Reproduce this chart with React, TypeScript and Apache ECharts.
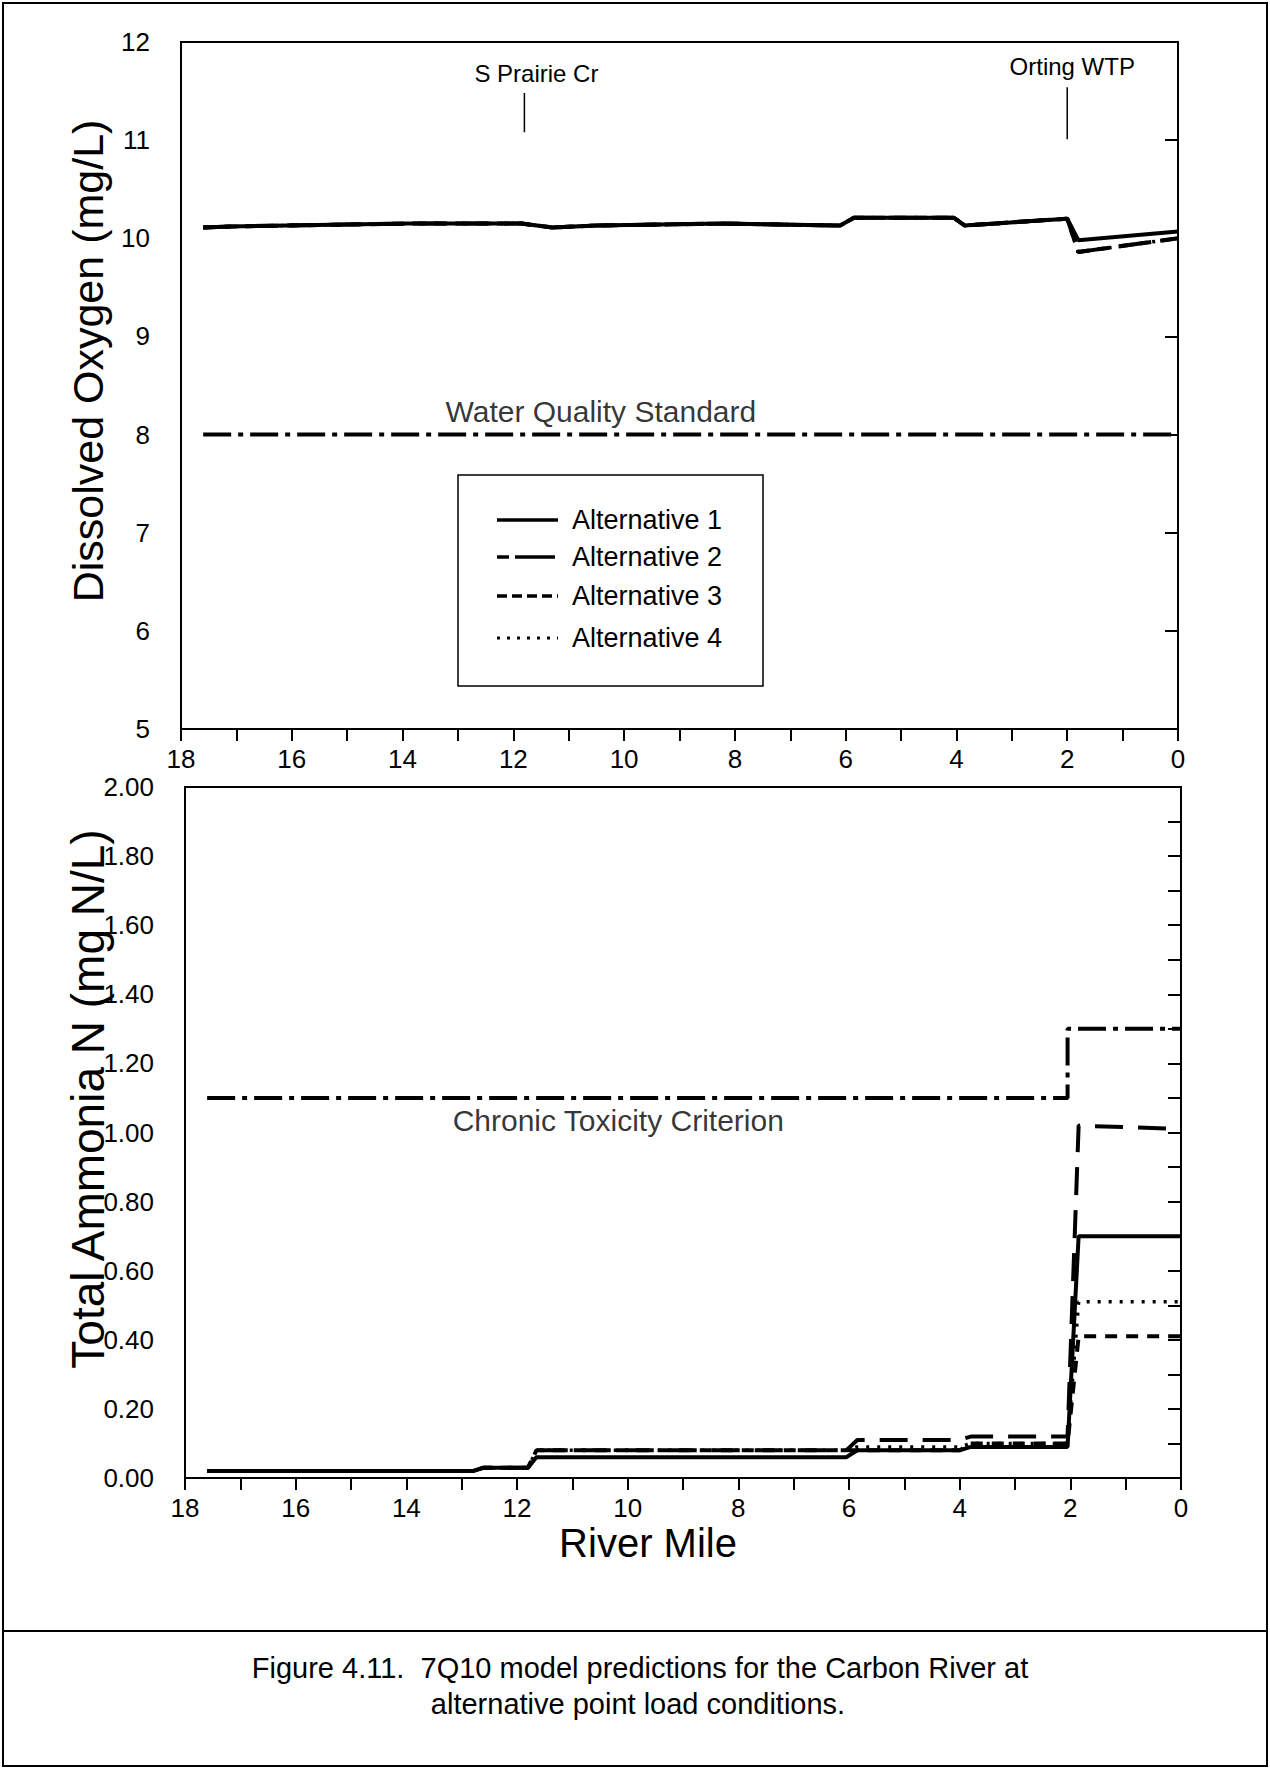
import React, { useEffect, useRef } from "react";
import * as echarts from "echarts";

const FONT = '"Liberation Sans", Arial, Helvetica, sans-serif';

// ---------- Data ----------
const SERIES_NAMES = ["Alternative 1", "Alternative 2", "Alternative 3", "Alternative 4"];

// Dissolved oxygen (mg/L) vs river mile
const doMiles = [17.6, 17.1, 16.1, 13.9, 11.85, 11.3, 10.5, 8.2, 6.1, 5.85, 4.05, 3.85, 2.0, 1.8, 0.0];
const doAlt1 = [10.11, 10.12, 10.13, 10.15, 10.15, 10.11, 10.13, 10.15, 10.13, 10.21, 10.21, 10.13, 10.20, 9.98, 10.07];
const doAlt2 = [10.11, 10.12, 10.13, 10.15, 10.15, 10.11, 10.13, 10.15, 10.13, 10.21, 10.21, 10.13, 10.20, 9.86, 10.00];
const doAlt3 = [10.11, 10.12, 10.13, 10.15, 10.15, 10.11, 10.13, 10.15, 10.13, 10.21, 10.21, 10.13, 10.20, 9.86, 10.00];
const doAlt4 = [10.11, 10.12, 10.13, 10.15, 10.15, 10.11, 10.13, 10.15, 10.13, 10.21, 10.21, 10.13, 10.20, 9.86, 10.00];
const wqsMiles = [17.6, 0.0];
const wqsValues = [8.0, 8.0];

// Total ammonia N (mg N/L) vs river mile
const nhMiles = [17.6, 12.8, 12.6, 11.8, 11.65, 6.05, 5.85, 4.0, 3.8, 2.05, 1.85, 0.0];
const nhAlt1 = [0.02, 0.02, 0.03, 0.03, 0.06, 0.06, 0.08, 0.08, 0.09, 0.09, 0.70, 0.70];
const nhAlt2 = [0.02, 0.02, 0.03, 0.03, 0.08, 0.08, 0.11, 0.11, 0.12, 0.12, 1.02, 1.01];
const nhAlt3 = [0.02, 0.02, 0.03, 0.03, 0.08, 0.08, 0.08, 0.08, 0.10, 0.10, 0.41, 0.41];
const nhAlt4 = [0.02, 0.02, 0.03, 0.03, 0.08, 0.08, 0.09, 0.09, 0.10, 0.10, 0.51, 0.51];
const critMiles = [17.6, 2.05, 2.05, 0.0];
const critValues = [1.10, 1.10, 1.30, 1.30];

// Point-source annotations (river mile)
const sources = [
  { name: "S Prairie Cr", mile: 11.8 },
  { name: "Orting WTP", mile: 2.0 },
];

const DASHES: any[] = ["solid", [28, 15], [12, 9], [3, 8]];
const CRIT_DASH = [28, 7, 5, 7];

const zip = (xs: number[], ys: number[]) => xs.map((x, i) => [x, ys[i]]);

function xAxisCfg(gridIndex: number) {
  return {
    type: "value",
    gridIndex,
    min: 0,
    max: 18,
    interval: 1,
    inverse: true,
    axisLine: { show: true, onZero: false, lineStyle: { color: "#000", width: 2 } },
    axisTick: { show: true, length: 12, lineStyle: { color: "#000", width: 2 } },
    axisLabel: {
      formatter: (v: number) => (Math.round(v) % 2 === 0 ? String(Math.round(v)) : ""),
      margin: 17,
      fontSize: 26,
      color: "#000",
      fontFamily: FONT,
    },
    splitLine: { show: false },
  };
}

export default function App() {
  const ref = useRef<HTMLDivElement>(null);

  useEffect(() => {
    if (!ref.current) return;
    const chart = echarts.init(ref.current, null, { renderer: "svg" });

    const doSets = [doAlt1, doAlt2, doAlt3, doAlt4];
    const nhSets = [nhAlt1, nhAlt2, nhAlt3, nhAlt4];

    const lineSeries = (name: string, xi: number, data: number[][], dash: any, width: number, z: number) => ({
      name,
      type: "line",
      xAxisIndex: xi,
      yAxisIndex: xi,
      data,
      symbol: "none",
      z,
      lineStyle: { color: "#000", width, type: dash, cap: "butt" },
      itemStyle: { color: "#000" },
    });

    const series: any[] = [];
    for (let i = 3; i >= 0; i--) {
      series.push(lineSeries(SERIES_NAMES[i], 0, zip(doMiles, doSets[i]), DASHES[i], i === 3 ? 3.5 : 4, 3 + (3 - i)));
    }
    series.push(lineSeries("Water Quality Standard", 0, zip(wqsMiles, wqsValues), CRIT_DASH, 4, 2));
    for (let i = 3; i >= 0; i--) {
      series.push(lineSeries(SERIES_NAMES[i], 1, zip(nhMiles, nhSets[i]), DASHES[i], i === 3 ? 3.5 : 4, 3 + (3 - i)));
    }
    series.push(lineSeries("Chronic Toxicity Criterion", 1, zip(critMiles, critValues), CRIT_DASH, 4, 2));

    // source marker ticks with labels
    const labelCfg = [
      { offset: [12, 0], distance: 8, low: 11.08, high: 11.48 },
      { offset: [5, 0], distance: 9, low: 11.01, high: 11.54 },
    ];
    sources.forEach((s, i) => {
      series.push({
        type: "line",
        xAxisIndex: 0,
        yAxisIndex: 0,
        symbol: "circle",
        symbolSize: 0,
        silent: true,
        lineStyle: { color: "#000", width: 1.5 },
        itemStyle: { color: "#000" },
        data: [
          { value: [s.mile, labelCfg[i].low] },
          {
            value: [s.mile, labelCfg[i].high],
            label: {
              show: true,
              position: "top",
              distance: labelCfg[i].distance,
              offset: labelCfg[i].offset,
              formatter: s.name,
              fontSize: 24,
              fontFamily: FONT,
              color: "#000",
            },
          },
        ],
      });
    });

    // reference-line captions
    const captionSeries = (xi: number, pt: number[], text: string) => ({
      type: "scatter",
      xAxisIndex: xi,
      yAxisIndex: xi,
      symbol: "circle",
      symbolSize: 0,
      silent: true,
      itemStyle: { color: "#000" },
      data: [
        {
          value: pt,
          label: {
            show: true,
            position: "inside",
            formatter: text,
            fontSize: 30,
            fontFamily: FONT,
            color: "#000",
            textBorderWidth: 0,
          },
        },
      ],
    });
    series.push(captionSeries(0, [10.42, 8.24], "Water Quality Standard"));
    series.push(captionSeries(1, [10.17, 1.036], "Chronic Toxicity Criterion"));

    // legend box drawn as graphic (line-style samples + labels)
    const LEG = { x: 458, y: 475, w: 305, h: 211, lineX1: 497, lineX2: 558, textX: 572, rows: [520, 557, 596, 638] };
    const legDash: any[] = [null, [40, 6], [10, 5], [3, 7]];
    const legOffset = [0, 28, 0, 0];
    const legendChildren: any[] = [
      { type: "rect", shape: { x: LEG.x, y: LEG.y, width: LEG.w, height: LEG.h }, style: { fill: "#fff", stroke: "#000", lineWidth: 1.5 } },
    ];
    SERIES_NAMES.forEach((n, i) => {
      legendChildren.push({
        type: "line",
        shape: { x1: LEG.lineX1, y1: LEG.rows[i], x2: LEG.lineX2, y2: LEG.rows[i] },
        style: { stroke: "#000", lineWidth: i === 3 ? 3 : 3.5, lineDash: legDash[i], lineDashOffset: legOffset[i] },
      });
      legendChildren.push({
        type: "text",
        x: LEG.textX,
        y: LEG.rows[i],
        style: { text: n, font: `27px ${FONT}`, fill: "#000", textAlign: "left", textVerticalAlign: "middle" },
      });
    });

    const option: any = {
      animation: false,
      backgroundColor: "#fff",
      grid: [
        { left: 181, top: 42, width: 997, height: 687, show: true, borderColor: "#000", borderWidth: 2, backgroundColor: "transparent" },
        { left: 185, top: 787, width: 996, height: 691, show: true, borderColor: "#000", borderWidth: 2, backgroundColor: "transparent" },
      ],
      xAxis: [xAxisCfg(0), xAxisCfg(1)],
      yAxis: [
        {
          type: "value",
          gridIndex: 0,
          min: 5,
          max: 12,
          interval: 1,
          axisLine: { show: true, lineStyle: { color: "#000", width: 2 } },
          axisTick: { show: true, length: 13, lineStyle: { color: "#000", width: 2 } },
          axisLabel: { margin: 31, fontSize: 26, color: "#000", fontFamily: FONT },
          splitLine: { show: false },
        },
        {
          type: "value",
          gridIndex: 1,
          min: 0,
          max: 2,
          interval: 0.1,
          axisLine: { show: true, lineStyle: { color: "#000", width: 2 } },
          axisTick: { show: true, length: 13, lineStyle: { color: "#000", width: 2 } },
          axisLabel: {
            margin: 31,
            fontSize: 26,
            color: "#000",
            fontFamily: FONT,
            formatter: (v: number) => {
              const k = Math.round(v * 10);
              return k % 2 === 0 ? (k / 10).toFixed(2) : "";
            },
          },
          splitLine: { show: false },
        },
      ],
      graphic: [
        { type: "rect", z: -1, shape: { x: 3, y: 3, width: 1264, height: 1763 }, style: { fill: "none", stroke: "#000", lineWidth: 2 } },
        { type: "line", shape: { x1: 3, y1: 1631, x2: 1267, y2: 1631 }, style: { stroke: "#000", lineWidth: 2 } },
        { type: "group", children: legendChildren },
        {
          type: "text",
          x: 88,
          y: 361,
          rotation: Math.PI / 2,
          style: { text: "Dissolved Oxygen (mg/L)", font: `43px ${FONT}`, fill: "#000", textAlign: "center", textVerticalAlign: "middle" },
        },
        {
          type: "text",
          x: 88,
          y: 1099,
          rotation: Math.PI / 2,
          style: { text: "Total Ammonia N (mg N/L)", font: `46px ${FONT}`, fill: "#000", textAlign: "center", textVerticalAlign: "middle" },
        },
        {
          type: "text",
          x: 648,
          y: 1543,
          style: { text: "River Mile", font: `40px ${FONT}`, fill: "#000", textAlign: "center", textVerticalAlign: "middle" },
        },
        {
          type: "text",
          x: 640,
          y: 1668,
          style: { text: "Figure 4.11.  7Q10 model predictions for the Carbon River at", font: `29px ${FONT}`, fill: "#000", textAlign: "center", textVerticalAlign: "middle" },
        },
        {
          type: "text",
          x: 638,
          y: 1704,
          style: { text: "alternative point load conditions.", font: `29px ${FONT}`, fill: "#000", textAlign: "center", textVerticalAlign: "middle" },
        },
      ],
      series,
    };

    chart.setOption(option);
    return () => chart.dispose();
  }, []);

  return (
    <div
      ref={ref}
      style={{ position: "absolute", left: 0, top: 0, width: 1270, height: 1769, background: "#fff" }}
    />
  );
}
